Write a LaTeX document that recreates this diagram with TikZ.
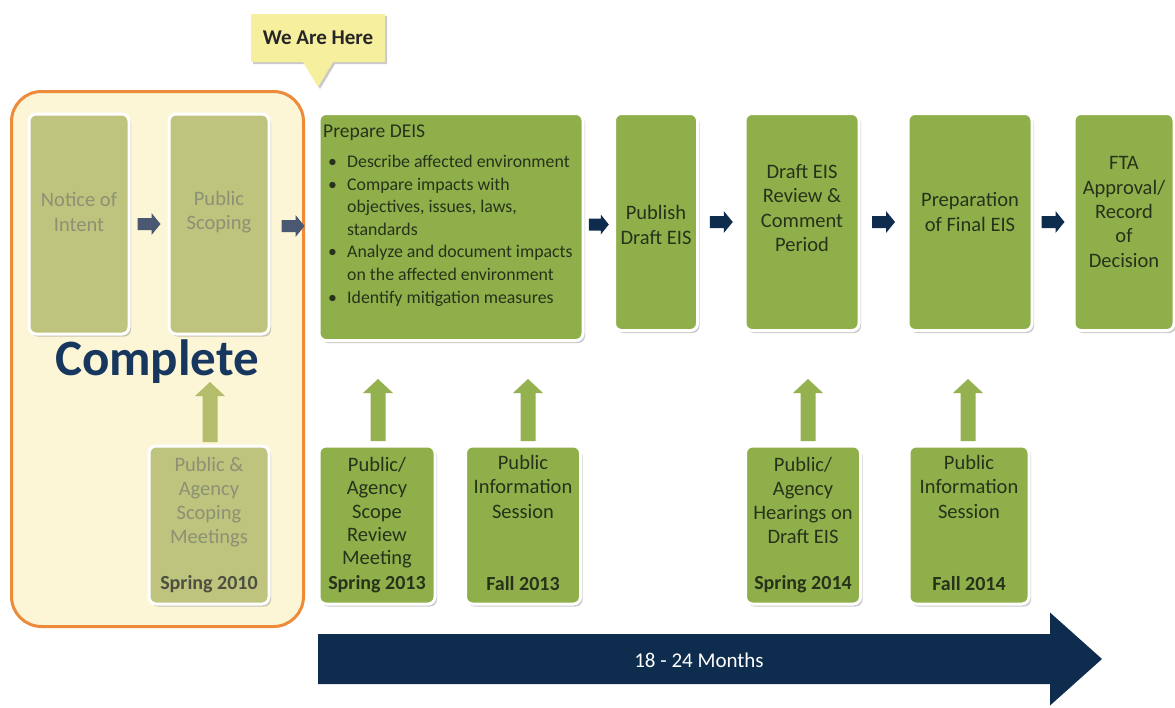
\documentclass[tikz,border=0pt]{standalone}
\usepackage{fontspec}
\setmainfont{Carlito}
\usetikzlibrary{shapes.callouts,shadows,calc}
\definecolor{gact}{HTML}{8FAF4B}
\definecolor{gfade}{HTML}{BEC47D}
\definecolor{tfade}{HTML}{8C9174}
\definecolor{tdark}{HTML}{26331A}
\definecolor{cream}{HTML}{FCF5D6}
\definecolor{orng}{HTML}{EE8B3A}
\definecolor{navy}{HTML}{0E2D4E}
\definecolor{cnavy}{HTML}{17375E}
\definecolor{sgrey}{HTML}{4B5872}
\definecolor{upfade}{HTML}{B4BD6C}
\definecolor{upact}{HTML}{93B14F}
\definecolor{yel}{HTML}{F6EF9E}
\begin{document}
\begin{tikzpicture}[x=1pt,y=-1pt,
  gbox/.style={draw=white, line width=3pt, rounded corners=7pt, fill=gact,
    drop shadow={shadow xshift=2pt, shadow yshift=-2.5pt, opacity=0.35, fill=black!60}},
  fbox/.style={gbox, fill=gfade},
  txt/.style={font=\fontsize{20.5}{24.3}\selectfont, align=center, text=tdark, inner sep=0pt},
  ftxt/.style={txt, text=tfade},
  date/.style={txt, font=\fontsize{20}{22}\bfseries\selectfont},
  pics/harrow/.style n args={5}{code={
    \fill[#5] (-#1/2,-#2) -- (#1/2-#4,-#2) -- (#1/2-#4,-#3) -- (#1/2,0)
      -- (#1/2-#4,#3) -- (#1/2-#4,#2) -- (-#1/2,#2) -- cycle;}},
  pics/varrow/.style n args={5}{code={
    \fill[#5] (-#2,#1/2) -- (-#2,-#1/2+#4) -- (-#3,-#1/2+#4) -- (0,-#1/2)
      -- (#3,-#1/2+#4) -- (#2,-#1/2+#4) -- (#2,#1/2) -- cycle;}}
]
\useasboundingbox (0,0) rectangle (1175,707);

% completed region
\node[draw=orng, line width=3pt, fill=cream, rounded corners=30pt,
  minimum width=292pt, minimum height=535pt] (done) at (157.5,359) {};

% callout
\node[rectangle callout, fill=yel, minimum width=134pt, minimum height=48pt,
  callout absolute pointer={(318,87)}, callout pointer width=30pt,
  drop shadow={shadow xshift=2pt, shadow yshift=-2pt, opacity=0.35, fill=black!60},
  font=\fontsize{21}{24}\bfseries\selectfont, text=black!85] (here) at (318,38) {We Are Here};

% top row
\node[fbox, minimum width=100pt, minimum height=220pt] (noi) at (79,224) {};
\node[fbox, minimum width=100pt, minimum height=220pt] (ps) at (219,224) {};
\node[gbox, minimum width=264pt, minimum height=227pt] (deis) at (451,227) {};
\node[gbox, minimum width=83pt, minimum height=217pt] (pub) at (656,222) {};
\node[gbox, minimum width=114pt, minimum height=217pt] (rev) at (802,222) {};
\node[gbox, minimum width=124pt, minimum height=217pt] (fin) at (970,222) {};
\node[gbox, minimum width=100pt, minimum height=217pt] (fta) at (1124,222) {};

\node[ftxt] (noit) at (79,212) {Notice of\\Intent};
\node[ftxt] (pst) at (219,212) {Public\\Scoping};
\node[txt, anchor=north west, align=left, font=\fontsize{17.8}{22.6}\selectfont] (deist) at (323,125)
 {{\fontsize{19.5}{22.6}\selectfont Prepare DEIS}\\[7pt]
  \hspace*{5pt}\makebox[19pt][l]{\textbullet}Describe affected environment\\
  \hspace*{5pt}\makebox[19pt][l]{\textbullet}Compare impacts with\\
  \hspace*{24pt}objectives, issues, laws,\\
  \hspace*{24pt}standards\\
  \hspace*{5pt}\makebox[19pt][l]{\textbullet}Analyze and document impacts\\
  \hspace*{24pt}on the affected environment\\
  \hspace*{5pt}\makebox[19pt][l]{\textbullet}Identify mitigation measures};
\node[txt] (pubt) at (656,225) {Publish\\Draft EIS};
\node[txt] (revt) at (802,208) {Draft EIS\\Review \&\\Comment\\Period};
\node[txt] (fint) at (970,212) {Preparation\\of Final EIS};
\node[txt] (ftat) at (1124,212) {FTA\\Approval/\\Record\\of\\Decision};

% arrows between top boxes
\pic at ($(noi.east)!0.5!(ps.west)$) {harrow={23}{6}{11}{9}{sgrey}};
\pic at (293,226) {harrow={23}{6}{11}{9}{sgrey}};
\pic at ($(deis.east)!0.5!(pub.west)$) {harrow={20}{6}{10}{8}{navy}};
\pic at ($(pub.east)!0.5!(rev.west)$) {harrow={23}{6}{11}{9}{navy}};
\pic at ($(rev.east)!0.5!(fin.west)$) {harrow={23}{6}{11}{9}{navy}};
\pic at ($(fin.east)!0.5!(fta.west)$) {harrow={23}{6}{11}{9}{navy}};

\node[font=\fontsize{51}{56}\bfseries\selectfont, text=cnavy, inner sep=0pt] (comp) at (157,362) {Complete};

% bottom row
\node[fbox, minimum width=120pt, minimum height=158pt] (m10) at (209,525) {};
\node[gbox, minimum width=116pt, minimum height=158pt] (m13) at (377,525) {};
\node[gbox, minimum width=115pt, minimum height=158pt] (f13) at (523,525) {};
\node[gbox, minimum width=115pt, minimum height=158pt] (m14) at (803,525) {};
\node[gbox, minimum width=120pt, minimum height=158pt] (f14) at (969,525) {};

\node[ftxt, anchor=north, font=\fontsize{20.5}{24}\selectfont] (m10t) at (209,457) {Public \&\\Agency\\Scoping\\Meetings};
\node[date, text=black!45!tfade] (m10d) at (209,584) {Spring 2010};
\node[txt, anchor=north, font=\fontsize{20.5}{23.3}\selectfont] (m13t) at (377,457) {Public/\\Agency\\Scope\\Review\\Meeting};
\node[date] (m13d) at (377,584) {Spring 2013};
\node[txt, anchor=north] (f13t) at (523,455) {Public\\Information\\Session};
\node[date] (f13d) at (523,584) {Fall 2013};
\node[txt, anchor=north, font=\fontsize{20.5}{24}\selectfont] (m14t) at (803,457) {Public/\\Agency\\Hearings on\\Draft EIS};
\node[date] (m14d) at (803,584) {Spring 2014};
\node[txt, anchor=north] (f14t) at (969,455) {Public\\Information\\Session};
\node[date] (f14d) at (969,584) {Fall 2014};

% up arrows
\pic at (210,412) {varrow={60}{7.5}{15}{14}{upfade}};
\pic at (378,410) {varrow={62}{7.5}{15}{14}{upact}};
\pic at (528,410) {varrow={62}{7.5}{15}{14}{upact}};
\pic at (808,410) {varrow={62}{7.5}{15}{14}{upact}};
\pic at (968,410) {varrow={62}{7.5}{15}{14}{upact}};

% timeline
\pic at (710,659) {harrow={784}{25}{46.5}{52}{navy}};
\node[font=\fontsize{21}{24}\selectfont, text=white, inner sep=0pt] (time) at (699,660) {18 - 24 Months};
\end{tikzpicture}
\end{document}
